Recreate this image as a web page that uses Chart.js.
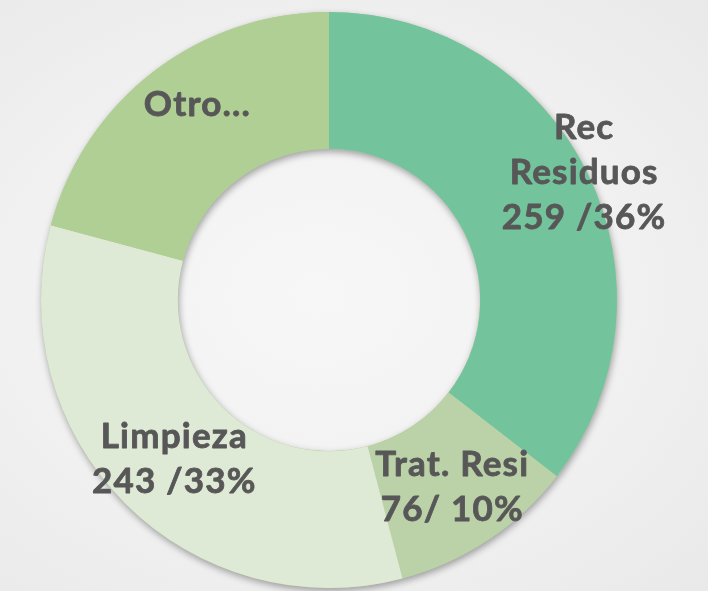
<!DOCTYPE html>
<html>
<head>
<meta charset="utf-8">
<script src="https://cdn.jsdelivr.net/npm/chart.js@4"></script>
<style>
  html, body { margin: 0; padding: 0; }
  body {
    width: 708px; height: 591px; overflow: hidden;
    background: radial-gradient(ellipse at 45% 50%, #f7f7f7 0%, #f1f1f1 55%, #e9e9e9 100%);
  }
  canvas { display: block; }
</style>
</head>
<body>
<canvas id="wasteChart" width="708" height="591"></canvas>
<script>
// Chart Data
const categories = ["Rec Residuos", "Trat. Resi", "Limpieza", "Otro"];
const values = [259, 76, 243, 152];
// label lines as written on the slide
const labelLines = [
  ["Rec", "Residuos", "259 /36%"],
  ["Trat. Resi", "76/ 10%"],
  ["Limpieza", "243 /33%"],
  ["Otro..."],
];
const sliceColors = ["#73c39c", "#bbd1a8", "#deead6", "#b0cf94"];
// nudge from the slice centre, in px
const labelNudge = [[58, -31], [2, 4], [1, 4], [2, -21]];

// Soft shadow under the whole ring
const ringShadow = {
  id: "ringShadow",
  beforeDatasetsDraw(chart) {
    const arc = chart.getDatasetMeta(0).data[0];
    if (!arc) return;
    const { x, y, outerRadius, innerRadius } = arc.getProps(["x", "y", "outerRadius", "innerRadius"], true);
    const ctx = chart.ctx;
    ctx.save();
    ctx.shadowColor = "rgba(0, 0, 0, 0.35)";
    ctx.shadowBlur = 7;
    ctx.shadowOffsetX = 1;
    ctx.shadowOffsetY = 3;
    ctx.fillStyle = "#b0cf94";
    ctx.beginPath();
    ctx.arc(x, y, outerRadius, 0, Math.PI * 2);
    ctx.arc(x, y, innerRadius, 0, Math.PI * 2, true);
    ctx.fill("evenodd");
    ctx.restore();
  },
};

// Slice labels
const sliceLabels = {
  id: "sliceLabels",
  afterDatasetsDraw(chart) {
    const ctx = chart.ctx;
    const lineH = 45;
    ctx.save();
    ctx.font = "bold 35px Lato";
    ctx.letterSpacing = "1.2px";
    ctx.fillStyle = "#575757";
    ctx.strokeStyle = "#575757";
    ctx.lineWidth = 0.8;
    ctx.lineJoin = "round";
    ctx.textAlign = "center";
    ctx.textBaseline = "middle";
    chart.getDatasetMeta(0).data.forEach((arc, i) => {
      const pos = arc.tooltipPosition(true);
      const lines = labelLines[i];
      const cx = pos.x + labelNudge[i][0];
      const cy = pos.y + labelNudge[i][1];
      lines.forEach((line, j) => {
        const ly = cy + (j - (lines.length - 1) / 2) * lineH;
        ctx.fillText(line, cx, ly);
        ctx.strokeText(line, cx, ly);
      });
    });
    ctx.restore();
  },
};

const ctx = document.getElementById("wasteChart").getContext("2d");
const chart = new Chart(ctx, {
  type: "doughnut",
  data: {
    labels: categories,
    datasets: [
      {
        data: values,
        backgroundColor: sliceColors,
        borderWidth: 0,
        hoverOffset: 0,
      },
    ],
  },
  options: {
    responsive: false,
    animation: false,
    cutout: "52.5%",
    layout: { padding: { left: 41, right: 91, top: 12, bottom: 3 } },
    plugins: {
      legend: { display: false },
      tooltip: { enabled: false },
    },
  },
  plugins: [ringShadow, sliceLabels],
});
</script>
</body>
</html>
